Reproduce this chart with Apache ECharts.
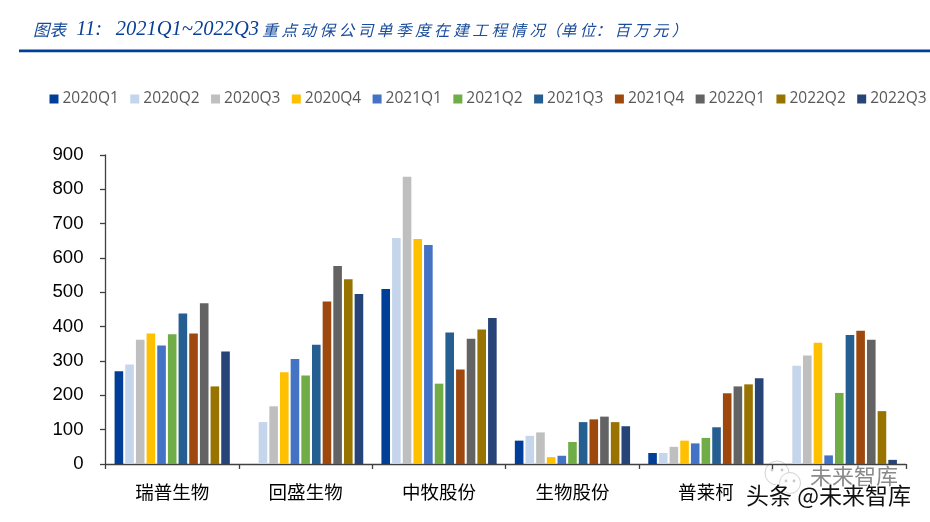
<!DOCTYPE html>
<html><head><meta charset="utf-8">
<style>html,body{margin:0;padding:0;background:#fff}#c{width:930px;height:522px}</style>
<script src="https://cdn.jsdelivr.net/npm/echarts@6/dist/echarts.min.js"></script>
</head><body><div id="c"></div>
<script>
const categories = ['瑞普生物','回盛生物','中牧股份','生物股份','普莱柯',''];
const quarters = ['2020Q1','2020Q2','2020Q3','2020Q4','2021Q1','2021Q2','2021Q3','2021Q4','2022Q1','2022Q2','2022Q3'];
const colors = ['#003f98','#c5d5ec','#bfbfbf','#ffc000','#4472c4','#70ad47','#255e91','#9e480e','#636363','#997300','#264478'];
const q2020Q1 = [270,0,510,68,32,0];
const q2020Q2 = [290,122,658,82,32,286];
const q2020Q3 = [362,168,837,92,50,316];
const q2020Q4 = [380,267,655,20,68,353];
const q2021Q1 = [345,306,638,24,60,25];
const q2021Q2 = [378,258,234,64,76,207];
const q2021Q3 = [438,347,383,122,107,376];
const q2021Q4 = [380,473,275,130,206,388];
const q2022Q1 = [468,577,365,138,226,362];
const q2022Q2 = [226,538,392,122,232,154];
const q2022Q3 = [328,495,425,110,250,12];
const values = [q2020Q1,q2020Q2,q2020Q3,q2020Q4,q2021Q1,q2021Q2,q2021Q3,q2021Q4,q2022Q1,q2022Q2,q2022Q3];
const chart = echarts.init(document.getElementById('c'));
const cjk = '"Noto Sans CJK SC"';
const spaced = '重 点 动 保 公 司 单 季 度 在 建 工 程 情 况（单 位： 百 万 元 ）';
const dot = (cx,cy)=>({type:'circle',silent:true,shape:{cx,cy,r:1.4},style:{fill:'#c8c8c8'}});
chart.setOption({
  animation:false,
  backgroundColor:'#fff',
  textStyle:{fontFamily:'"Liberation Sans",'+cjk},
  legend:{
    left:49.5,top:91,width:878,padding:0,itemWidth:9,itemHeight:9,itemGap:11.4,
    icon:'rect',
    textStyle:{color:'#595959',fontSize:15.5,fontFamily:'"Open Sans"',padding:[0,0,0,-1]},
    data:quarters
  },
  grid:{left:105.5,right:24,top:155,height:309,containLabel:false},
  xAxis:{
    type:'category',data:categories,
    axisLine:{lineStyle:{color:'#404040',width:1.3}},
    axisTick:{show:true,length:5,alignWithLabel:false,lineStyle:{color:'#404040',width:1.3}},
    axisLabel:{color:'#000',fontSize:18.5,margin:19,fontFamily:cjk}
  },
  yAxis:{
    type:'value',min:0,max:900,interval:100,
    splitLine:{show:false},
    axisLine:{show:true,lineStyle:{color:'#404040',width:1.3}},
    axisTick:{show:true,length:5.5,lineStyle:{color:'#404040',width:1.3}},
    axisLabel:{color:'#000',fontSize:18.6,margin:22,fontFamily:'"Liberation Sans"'}
  },
  series:quarters.map((q,i)=>({
    name:q,type:'bar',barWidth:8.6,barGap:'24%',
    itemStyle:{color:colors[i]},
    data:values[i]
  })),
  graphic:[
    {type:'rect',silent:true,shape:{x:19,y:49.5,width:911,height:2.8},style:{fill:'#003f98'}},
    {type:'text',left:33,top:20,silent:true,style:{
      rich:{
        a:{fontFamily:'"Liberation Serif"',fontStyle:'italic',fontSize:20.5,fill:'#0a3f98'},
        b:{fontFamily:cjk,fontStyle:'italic',fontSize:15.6,fill:'#1a4c9c'},
        c:{fontFamily:cjk,fontStyle:'italic',fontSize:16.5,fill:'#1a4c9c'},
        d:{fontFamily:'"Liberation Serif"',fontSize:14}
      },
      text:'{c|图表}{a|  11:  }{d| }{a|2021Q1~2022Q3} {b|'+spaced+'}'
    }},
    {type:'circle',silent:true,shape:{cx:777,cy:473,r:12},style:{fill:'rgba(255,255,255,0.6)',stroke:'#d2d2d2',lineWidth:1}},
    {type:'circle',silent:true,shape:{cx:790,cy:483,r:10.5},style:{fill:'rgba(255,255,255,0.85)',stroke:'#d2d2d2',lineWidth:1}},
    dot(772,470),dot(782,470),dot(786,481),dot(794,481),
    {type:'text',left:810,top:465,silent:true,style:{text:'未来智库',fontFamily:cjk,fontSize:22,fill:'#8a8a8a'}},
    {type:'text',left:745,top:483,silent:true,style:{text:'头条 @未来智库',fontFamily:cjk,fontSize:23,fill:'#111',stroke:'#fff',lineWidth:2}}
  ]
});
</script></body></html>
